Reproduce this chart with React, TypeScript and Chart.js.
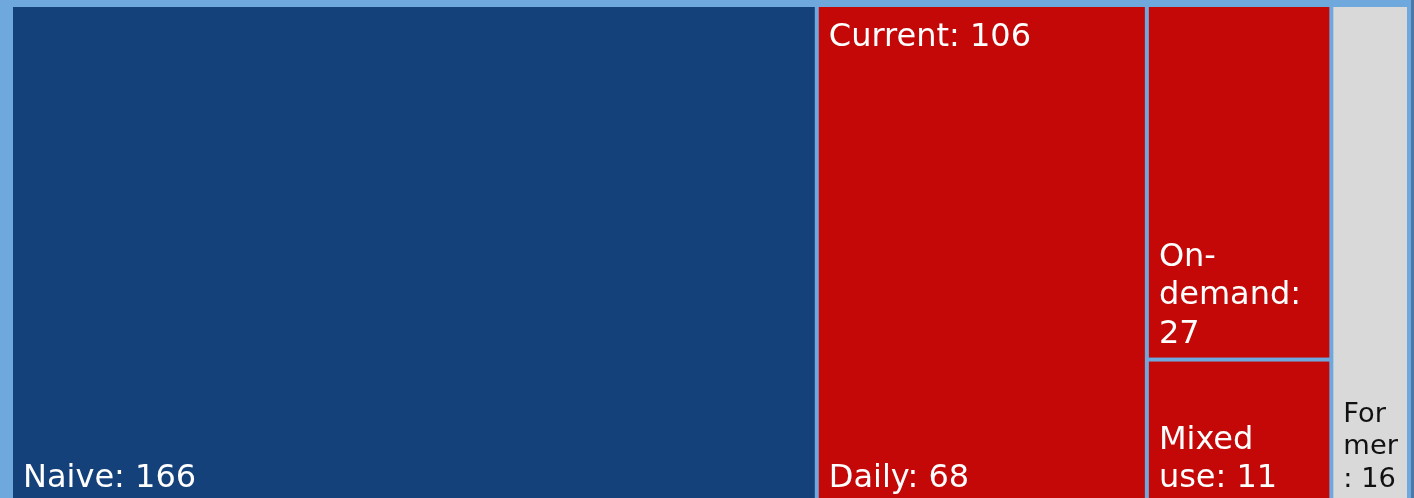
import React, { useEffect, useRef } from "react";
import { Chart, registerables } from "chart.js";

Chart.register(...registerables);

// ---- data ----
const groupNames = ["Naive", "Current", "Former"];
const groupValues = [166, 106, 16];
const groupColors = ["#15417a", "#c40808", "#d9d9d9"];
const groupTextColors = ["#ffffff", "#ffffff", "#111111"];
const currentNames = ["Daily", "On-demand", "Mixed use"];
const currentValues = [68, 27, 11];

const BORDER = "#6fa8dc";
const FONT_FAMILY = "'DejaVu Sans', Verdana, sans-serif";

type Rect = { x: number; y: number; w: number; h: number };

function worst(row: number[], side: number): number {
  const s = row.reduce((a, b) => a + b, 0);
  let m = 0;
  for (const r of row) {
    m = Math.max(m, (side * side * r) / (s * s), (s * s) / (side * side * r));
  }
  return m;
}

function squarify(values: number[], rect: Rect): Rect[] {
  const total = values.reduce((a, b) => a + b, 0);
  const scale = (rect.w * rect.h) / total;
  const areas = values.map((v) => v * scale);
  const out: Rect[] = [];
  let { x, y, w, h } = rect;
  let i = 0;
  while (i < areas.length) {
    const side = Math.min(w, h);
    const row = [areas[i]];
    let j = i + 1;
    while (j < areas.length && worst([...row, areas[j]], side) <= worst(row, side)) {
      row.push(areas[j]);
      j++;
    }
    const rowArea = row.reduce((a, b) => a + b, 0);
    if (w >= h) {
      const colW = rowArea / h;
      let yy = y;
      for (const a of row) {
        const hh = a / colW;
        out.push({ x, y: yy, w: colW, h: hh });
        yy += hh;
      }
      x += colW;
      w -= colW;
    } else {
      const rowH = rowArea / w;
      let xx = x;
      for (const a of row) {
        const ww = a / rowH;
        out.push({ x: xx, y, w: ww, h: rowH });
        xx += ww;
      }
      y += rowH;
      h -= rowH;
    }
    i = j;
  }
  return out;
}

function wrapText(ctx: CanvasRenderingContext2D, text: string, avail: number): string[] {
  const tokens = text.match(/[^\s-]+-?\s*|\s+/g) || [text];
  const lines: string[] = [];
  let cur = "";
  const fits = (s: string) => ctx.measureText(s.trimEnd()).width <= avail;
  for (const t of tokens) {
    if (fits(cur + t)) {
      cur += t;
      continue;
    }
    if (cur.trim().length) {
      lines.push(cur.trimEnd());
      cur = t.trimStart();
    } else {
      cur = cur + t;
    }
    while (!fits(cur)) {
      let k = 1;
      while (k < cur.length && fits(cur.slice(0, k + 1))) k++;
      lines.push(cur.slice(0, k).trimEnd());
      cur = cur.slice(k);
    }
  }
  if (cur.trim().length) lines.push(cur.trimEnd());
  return lines;
}

const GAP = 2;

function drawLabel(
  ctx: CanvasRenderingContext2D,
  r: Rect,
  text: string,
  color: string,
  atTop: boolean
) {
  const fs = Math.min(32, r.w * 0.37);
  ctx.font = `${fs}px ${FONT_FAMILY}`;
  ctx.fillStyle = color;
  ctx.textAlign = "left";
  ctx.textBaseline = "alphabetic";
  const lines = wrapText(ctx, text, r.w - 16);
  const lh = fs * 1.2;
  const x = r.x + 10;
  if (atTop) {
    let y = r.y + 6.5 + fs;
    for (const l of lines) {
      ctx.fillText(l, x, y);
      y += lh;
    }
  } else {
    let y = r.y + r.h - 15 - (lines.length - 1) * lh;
    for (const l of lines) {
      ctx.fillText(l, x, y);
      y += lh;
    }
  }
}

const inset = (r: Rect): Rect => ({ x: r.x + GAP, y: r.y + GAP, w: r.w - 2 * GAP, h: r.h - 2 * GAP });

const treemapPlugin = {
  id: "treemap",
  afterDatasetsDraw(chart: any) {
    const ctx: CanvasRenderingContext2D = chart.ctx;
    const xs = chart.scales.x;
    const ys = chart.scales.y;
    const total = groupValues.reduce((a, b) => a + b, 0);
    const left = xs.getPixelForValue(0);
    const right = xs.getPixelForValue(total);
    const top = ys.getPixelForValue(1);
    const bottom = ys.getPixelForValue(0);
    const groupRects = squarify(groupValues, { x: left, y: top, w: right - left, h: bottom - top });
    const labels: Array<[Rect, string, string, boolean]> = [];
    ctx.save();
    groupRects.forEach((gr, gi) => {
      if (groupNames[gi] === "Current") {
        const childRects = squarify(currentValues, gr);
        childRects.forEach((cr, ci) => {
          const f = inset(cr);
          ctx.fillStyle = groupColors[gi];
          ctx.fillRect(f.x, f.y, f.w, f.h);
          labels.push([f, `${currentNames[ci]}: ${currentValues[ci]}`, groupTextColors[gi], false]);
        });
        labels.push([inset(gr), `${groupNames[gi]}: ${groupValues[gi]}`, groupTextColors[gi], true]);
      } else {
        const f = inset(gr);
        ctx.fillStyle = groupColors[gi];
        ctx.fillRect(f.x, f.y, f.w, f.h);
        labels.push([f, `${groupNames[gi]}: ${groupValues[gi]}`, groupTextColors[gi], false]);
      }
    });
    for (const [r, t, c, top2] of labels) drawLabel(ctx, r, t, c, top2);
    ctx.restore();
  },
};

export default function App() {
  const ref = useRef<HTMLCanvasElement | null>(null);
  useEffect(() => {
    if (!ref.current) return;
    const total = groupValues.reduce((a, b) => a + b, 0);
    const chart = new Chart(ref.current, {
      type: "scatter",
      data: { datasets: [{ data: [], pointRadius: 0 }] },
      options: {
        animation: false,
        responsive: false,
        maintainAspectRatio: false,
        layout: { padding: { left: 11, right: 5, top: 5, bottom: 4 } },
        plugins: { legend: { display: false }, tooltip: { enabled: false } },
        scales: {
          x: { type: "linear", min: 0, max: total, display: false },
          y: { type: "linear", min: 0, max: 1, display: false },
        },
      },
      plugins: [treemapPlugin],
    });
    return () => chart.destroy();
  }, []);
  return (
    <div
      style={{
        position: "absolute",
        left: 0,
        top: 0,
        width: 1414,
        height: 508,
        background: `linear-gradient(to right, ${BORDER} 0px, ${BORDER} 1411px, #4d78a8 1411px)`,
      }}
    >
      <canvas ref={ref} width={1414} height={508} style={{ display: "block" }} />
    </div>
  );
}
